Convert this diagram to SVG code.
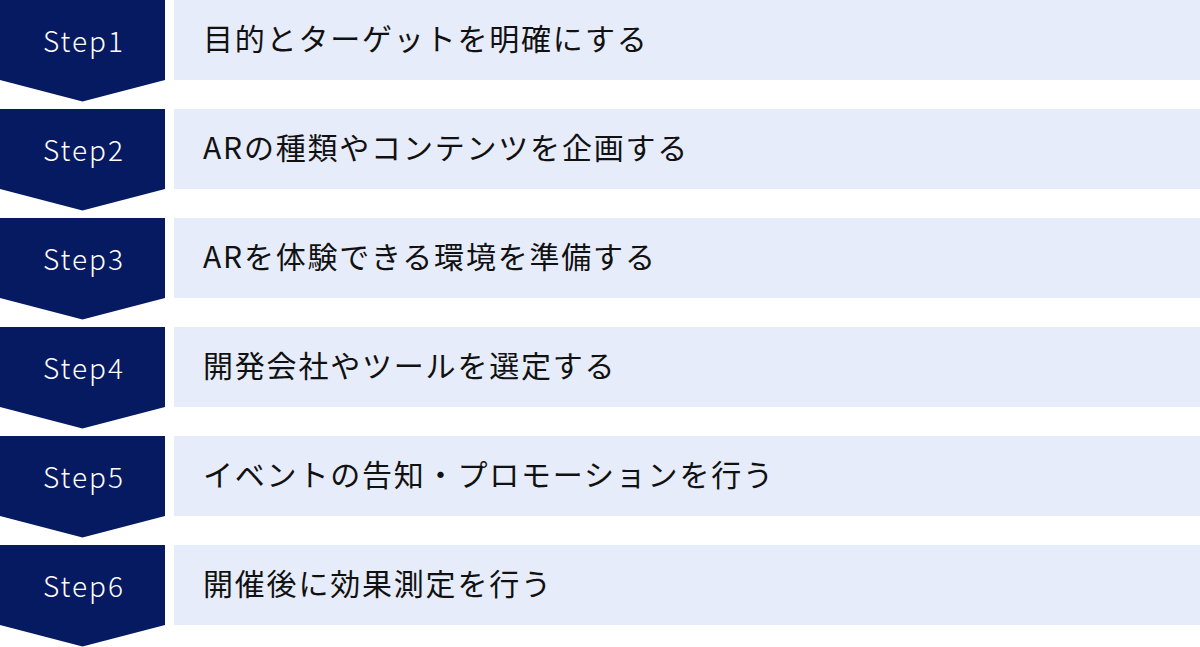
<svg xmlns="http://www.w3.org/2000/svg" width="1200" height="647" viewBox="0 0 1200 647">
<style>
.badge{fill:#051A60}
.bar{fill:#E6ECF9}
.step{font-family:"Noto Sans CJK JP","Noto Sans",sans-serif;font-size:28px;font-weight:300;fill:#FFFFFF;text-anchor:middle;letter-spacing:2px}
.label{font-family:"Noto Sans CJK JP","Noto Sans",sans-serif;font-size:30px;fill:#111111;letter-spacing:1.8px}
</style>
<rect width="1200" height="647" fill="#FFFFFF"/>
<g id="connectors"></g>
<g id="step1" transform="translate(0,0)">
<polygon class="badge" points="0,0 165,0 165,80 82.5,101.5 0,80"/>
<rect class="bar" x="174" y="0" width="1026" height="80"/>
<text class="step" x="84" y="52">Step1</text>
<text class="label" x="203" y="50">目的とターゲットを明確にする</text>
</g>
<g id="step2" transform="translate(0,109)">
<polygon class="badge" points="0,0 165,0 165,80 82.5,101.5 0,80"/>
<rect class="bar" x="174" y="0" width="1026" height="80"/>
<text class="step" x="84" y="52">Step2</text>
<text class="label" x="203" y="50">ARの種類やコンテンツを企画する</text>
</g>
<g id="step3" transform="translate(0,218)">
<polygon class="badge" points="0,0 165,0 165,80 82.5,101.5 0,80"/>
<rect class="bar" x="174" y="0" width="1026" height="80"/>
<text class="step" x="84" y="52">Step3</text>
<text class="label" x="203" y="50">ARを体験できる環境を準備する</text>
</g>
<g id="step4" transform="translate(0,327)">
<polygon class="badge" points="0,0 165,0 165,80 82.5,101.5 0,80"/>
<rect class="bar" x="174" y="0" width="1026" height="80"/>
<text class="step" x="84" y="52">Step4</text>
<text class="label" x="203" y="50">開発会社やツールを選定する</text>
</g>
<g id="step5" transform="translate(0,436)">
<polygon class="badge" points="0,0 165,0 165,80 82.5,101.5 0,80"/>
<rect class="bar" x="174" y="0" width="1026" height="80"/>
<text class="step" x="84" y="52">Step5</text>
<text class="label" x="203" y="50">イベントの告知・プロモーションを行う</text>
</g>
<g id="step6" transform="translate(0,545)">
<polygon class="badge" points="0,0 165,0 165,80 82.5,101.5 0,80"/>
<rect class="bar" x="174" y="0" width="1026" height="80"/>
<text class="step" x="84" y="52">Step6</text>
<text class="label" x="203" y="50">開催後に効果測定を行う</text>
</g>
</svg>
